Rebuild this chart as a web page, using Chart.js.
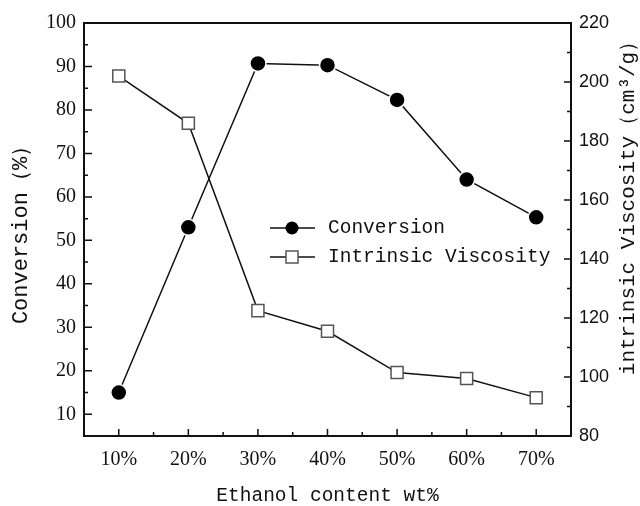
<!DOCTYPE html>
<html>
<head>
<meta charset="utf-8">
<script src="https://cdn.jsdelivr.net/npm/chart.js@4.4.0/dist/chart.umd.min.js"></script>
<style>
  html, body { margin: 0; padding: 0; background: #fff; }
  #wrap { width: 640px; height: 506px; }
</style>
</head>
<body>
<div id="wrap"><canvas id="chart" width="640" height="506"></canvas></div>
<script>
const ethanolContent = ['10%', '20%', '30%', '40%', '50%', '60%', '70%'];
const conversion = [15, 53, 90.7, 90.3, 82.3, 64, 55.3];
const viscosity = [202, 186, 122.5, 115.5, 101.5, 99.5, 93];
const conversionTicks = [10, 20, 30, 40, 50, 60, 70, 80, 90, 100];
const viscosityTicks = [80, 100, 120, 140, 160, 180, 200, 220];

const monoFont = "'Liberation Mono', monospace";

// frame, inward ticks, legend and right title
const frame = {
  id: 'frame',
  afterDraw(chart) {
    const { ctx, chartArea: a, scales } = chart;
    ctx.save();
    ctx.strokeStyle = '#111';
    ctx.lineWidth = 2;
    ctx.strokeRect(a.left, a.top, a.right - a.left, a.bottom - a.top);

    ctx.lineWidth = 1.5;
    ctx.beginPath();
    scales.y.ticks.forEach(t => {
      const y = scales.y.getPixelForValue(t.value);
      const len = t.value % 10 === 0 ? 8 : 4;
      ctx.moveTo(a.left, y);
      ctx.lineTo(a.left + len, y);
    });
    scales.y1.ticks.forEach(t => {
      const y = scales.y1.getPixelForValue(t.value);
      const len = t.value % 20 === 0 ? 7 : 4;
      ctx.moveTo(a.right, y);
      ctx.lineTo(a.right - len, y);
    });
    for (let i = 0; i < ethanolContent.length; i++) {
      const x = scales.x.getPixelForValue(i);
      ctx.moveTo(x, a.bottom);
      ctx.lineTo(x, a.bottom - 7);
      if (i < ethanolContent.length - 1) {
        const xm = (x + scales.x.getPixelForValue(i + 1)) / 2;
        ctx.moveTo(xm, a.bottom);
        ctx.lineTo(xm, a.bottom - 4);
      }
    }
    ctx.stroke();

    // legend
    ctx.font = "19.5px " + monoFont;
    ctx.fillStyle = '#111';
    ctx.textBaseline = 'middle';
    const rows = [
      { label: 'Conversion', y: 228, style: 'circle' },
      { label: 'Intrinsic Viscosity', y: 257, style: 'rect' }
    ];
    rows.forEach(r => {
      ctx.strokeStyle = '#111';
      ctx.lineWidth = 1.5;
      ctx.beginPath();
      ctx.moveTo(270, r.y);
      ctx.lineTo(315, r.y);
      ctx.stroke();
      if (r.style === 'circle') {
        ctx.beginPath();
        ctx.arc(292, r.y, 6.5, 0, Math.PI * 2);
        ctx.fillStyle = '#000';
        ctx.fill();
      } else {
        ctx.fillStyle = '#fff';
        ctx.fillRect(286, r.y - 6, 12, 12);
        ctx.strokeStyle = '#555';
        ctx.strokeRect(286, r.y - 6, 12, 12);
      }
      ctx.fillStyle = '#111';
      ctx.textAlign = 'left';
      ctx.fillText(r.label, 328, r.y);
    });

    // right axis title, reading bottom to top
    ctx.translate(628, 203);
    ctx.rotate(-Math.PI / 2);
    ctx.textAlign = 'center';
    ctx.font = "21px " + monoFont;
    ctx.fillText('intrinsic Viscosity（cm³/g）', 0, 0);
    ctx.restore();
  }
};

const config = {
  type: 'line',
  data: {
    labels: ethanolContent,
    datasets: [
      {
        label: 'Conversion',
        data: conversion,
        yAxisID: 'y',
        borderColor: '#111',
        borderWidth: 1.5,
        pointStyle: 'circle',
        pointRadius: 8,
        pointBackgroundColor: '#000',
        pointBorderColor: '#fff',
        pointBorderWidth: 1.5,
        tension: 0,
      },
      {
        label: 'Intrinsic Viscosity',
        data: viscosity,
        yAxisID: 'y1',
        borderColor: '#111',
        borderWidth: 1.5,
        pointStyle: 'rect',
        pointRadius: 8.5,
        pointBackgroundColor: '#fff',
        pointBorderColor: '#555',
        pointBorderWidth: 1.5,
        tension: 0,
      }
    ]
  },
  options: {
    responsive: false,
    animation: false,
    layout: { padding: { top: 23, left: 0, right: 0, bottom: 0 } },
    plugins: {
      legend: { display: false },
      tooltip: { enabled: false },
    },
    scales: {
      x: {
        offset: true,
        grid: { display: false, drawTicks: false },
        border: { display: false },
        ticks: {
          color: '#111',
          padding: 12,
          font: { family: "'Liberation Serif', serif", size: 20 },
        },
        title: {
          display: true,
          text: 'Ethanol content wt%',
          color: '#111',
          padding: { top: 0, bottom: 0 },
          font: { family: monoFont, size: 19.5, lineHeight: 1 },
        },
        afterFit: scale => { scale.height = 70; },
      },
      y: {
        position: 'left',
        min: 5,
        max: 100,
        grid: { display: false, drawTicks: false },
        border: { display: false },
        ticks: {
          stepSize: 5,
          autoSkip: false,
          color: '#111',
          padding: 8,
          font: { family: "'Liberation Serif', serif", size: 20 },
          callback: v => conversionTicks.includes(v) ? v : '',
        },
        title: {
          display: true,
          text: 'Conversion（%）',
          color: '#111',
          padding: { top: 8, bottom: 0 },
          font: { family: monoFont, size: 22, lineHeight: 1.2 },
        },
        afterFit: scale => { scale.width = 84; },
      },
      y1: {
        position: 'right',
        min: 80,
        max: 220,
        grid: { display: false, drawTicks: false },
        border: { display: false },
        ticks: {
          stepSize: 10,
          autoSkip: false,
          color: '#111',
          padding: 8,
          font: { family: "'Liberation Sans', sans-serif", size: 18 },
          callback: v => viscosityTicks.includes(v) ? v : '',
        },
        afterFit: scale => { scale.width = 69; },
      }
    }
  },
  plugins: [frame]
};

const ctx = document.getElementById('chart').getContext('2d');
new Chart(ctx, config);
</script>
</body>
</html>
